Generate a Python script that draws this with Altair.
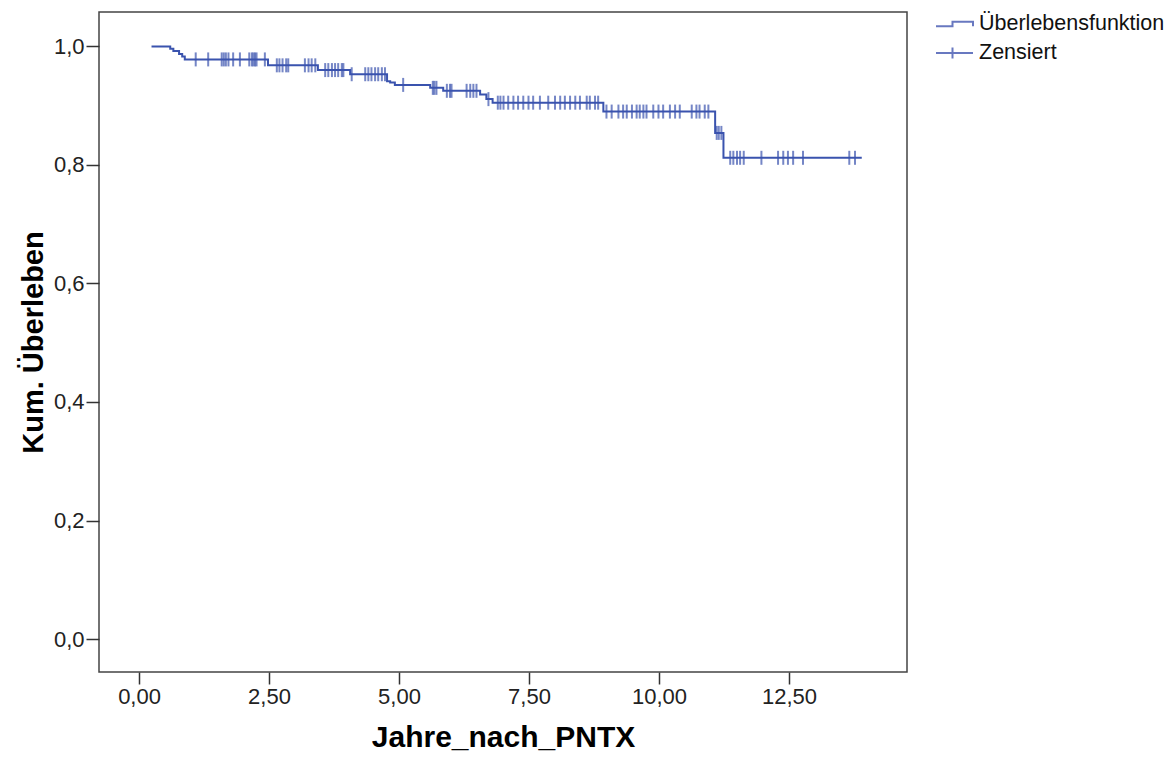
import altair as alt
import numpy as np
import pandas as pd

# Kaplan-Meier step function
step_times = [0.24, 0.60, 0.66, 0.77, 0.83, 0.88, 2.48, 3.44, 4.06, 4.77, 4.83, 4.92,
              5.60, 5.85, 6.56, 6.68, 6.80, 8.93, 11.08, 11.24, 13.90]
step_surv = [1.0, 0.996, 0.992, 0.987, 0.983, 0.978, 0.968, 0.960, 0.953, 0.941, 0.939, 0.935,
             0.930, 0.925, 0.919, 0.911, 0.905, 0.890, 0.854, 0.812, 0.812]

# censored observations (times)
censor_times = [1.09, 1.33, 1.59, 1.63, 1.67, 1.72, 1.81, 1.94, 2.12, 2.17, 2.20, 2.23, 2.26, 2.42,
                2.65, 2.70, 2.76, 2.83, 2.87, 3.19, 3.26, 3.32, 3.39,
                3.58, 3.64, 3.71, 3.77, 3.83, 3.90, 3.93,
                4.09, 4.35, 4.41, 4.47, 4.54, 4.60, 4.67, 4.73,
                5.08, 5.65, 5.68, 5.72, 5.92, 5.98, 6.01, 6.30, 6.37, 6.43, 6.49, 6.72,
                6.90, 6.95, 7.01, 7.10, 7.20, 7.29, 7.39, 7.49, 7.58, 7.71, 7.87, 8.00, 8.10,
                8.19, 8.29, 8.39, 8.48, 8.61, 8.67, 8.77, 8.83,
                8.99, 9.09, 9.22, 9.31, 9.38, 9.48, 9.57, 9.63, 9.70, 9.76, 9.89, 9.99, 10.08,
                10.21, 10.31, 10.40, 10.63, 10.72, 10.78, 10.88, 10.95,
                11.11, 11.15, 11.20,
                11.37, 11.43, 11.50, 11.56, 11.63, 11.97, 12.29, 12.39, 12.48, 12.58, 12.77,
                13.66, 13.77]

x_ticks = [0, 2.5, 5, 7.5, 10, 12.5]
y_ticks = [0, 0.2, 0.4, 0.6, 0.8, 1.0]
legend_labels = ["Überlebensfunktion", "Zensiert"]

idx = np.searchsorted(step_times, censor_times, side="right") - 1
censor_surv = np.array(step_surv)[idx]

km_df = pd.DataFrame({"t": step_times, "S": step_surv})
cens_df = pd.DataFrame({"t": censor_times, "S": censor_surv})
leg_df = pd.DataFrame({"label": legend_labels})

blue = "#3A53AE"
font = "Liberation Sans"

x_scale = alt.Scale(domain=[-0.77, 14.77], nice=False, zero=False)
y_scale = alt.Scale(domain=[-0.0556, 1.058], nice=False, zero=False)

x_axis = alt.Axis(values=x_ticks, labelExpr="replace(format(datum.value, '.2f'), '.', ',')",
                  tickSize=12, labelPadding=2, labelFontSize=22, labelFlush=False,
                  title="Jahre_nach_PNTX", titleFontSize=30, titleFontWeight="bold",
                  titleBaseline="middle", titleY=65, grid=False, domain=False)
y_axis = alt.Axis(values=y_ticks, labelExpr="replace(format(datum.value, '.1f'), '.', ',')",
                  tickSize=13, labelPadding=2, labelFontSize=22, labelFlush=False,
                  title="Kum. Überleben", titleFontSize=29, titleFontWeight="bold",
                  titleBaseline="middle", titleX=-66, titleY=330, grid=False, domain=False)

line = alt.Chart(km_df).mark_line(interpolate="step-after", color=blue, strokeWidth=2).encode(
    x=alt.X("t:Q", scale=x_scale, axis=x_axis),
    y=alt.Y("S:Q", scale=y_scale, axis=y_axis),
)

ticks = alt.Chart(cens_df).mark_tick(orient="vertical", color=blue, size=14, thickness=2).encode(
    x=alt.X("t:Q", scale=x_scale),
    y=alt.Y("S:Q", scale=y_scale),
)

step_path = "M-2.7,0.22L-1.05,0.22L-1.05,-0.22L1,-0.22L1,0.22"
cross_path = "M-2.7,0L1,0M-1.05,-0.55L-1.05,0.55"

legend_layer = alt.Chart(leg_df).mark_point(opacity=0).encode(
    shape=alt.Shape("label:N",
                    scale=alt.Scale(domain=legend_labels, range=[step_path, cross_path]),
                    legend=alt.Legend(title=None, orient="none", legendX=853, legendY=1,
                                      symbolSize=400, symbolStrokeWidth=2,
                                      symbolStrokeColor="#6878C0", symbolOpacity=1,
                                      symbolFillColor="transparent",
                                      labelFontSize=21.5, labelFont=font, labelColor="#111",
                                      labelLimit=400, labelOffset=5, rowPadding=7, padding=0))
)

chart = alt.layer(line, ticks, legend_layer).properties(
    width=808, height=660,
    autosize=alt.AutoSizeParams(type="none"),
    padding={"left": 91, "top": 4, "right": 261, "bottom": 81},
    background="white",
).configure_view(
    fill="#F0F0F0", stroke="#444444", strokeWidth=1.5
).configure_axis(
    labelFont=font, titleFont=font, labelColor="#222222", titleColor="#000000",
    tickColor="#333333", tickWidth=1.5
)

chart.save("out.html", embed_options={"renderer": "svg", "actions": False})
